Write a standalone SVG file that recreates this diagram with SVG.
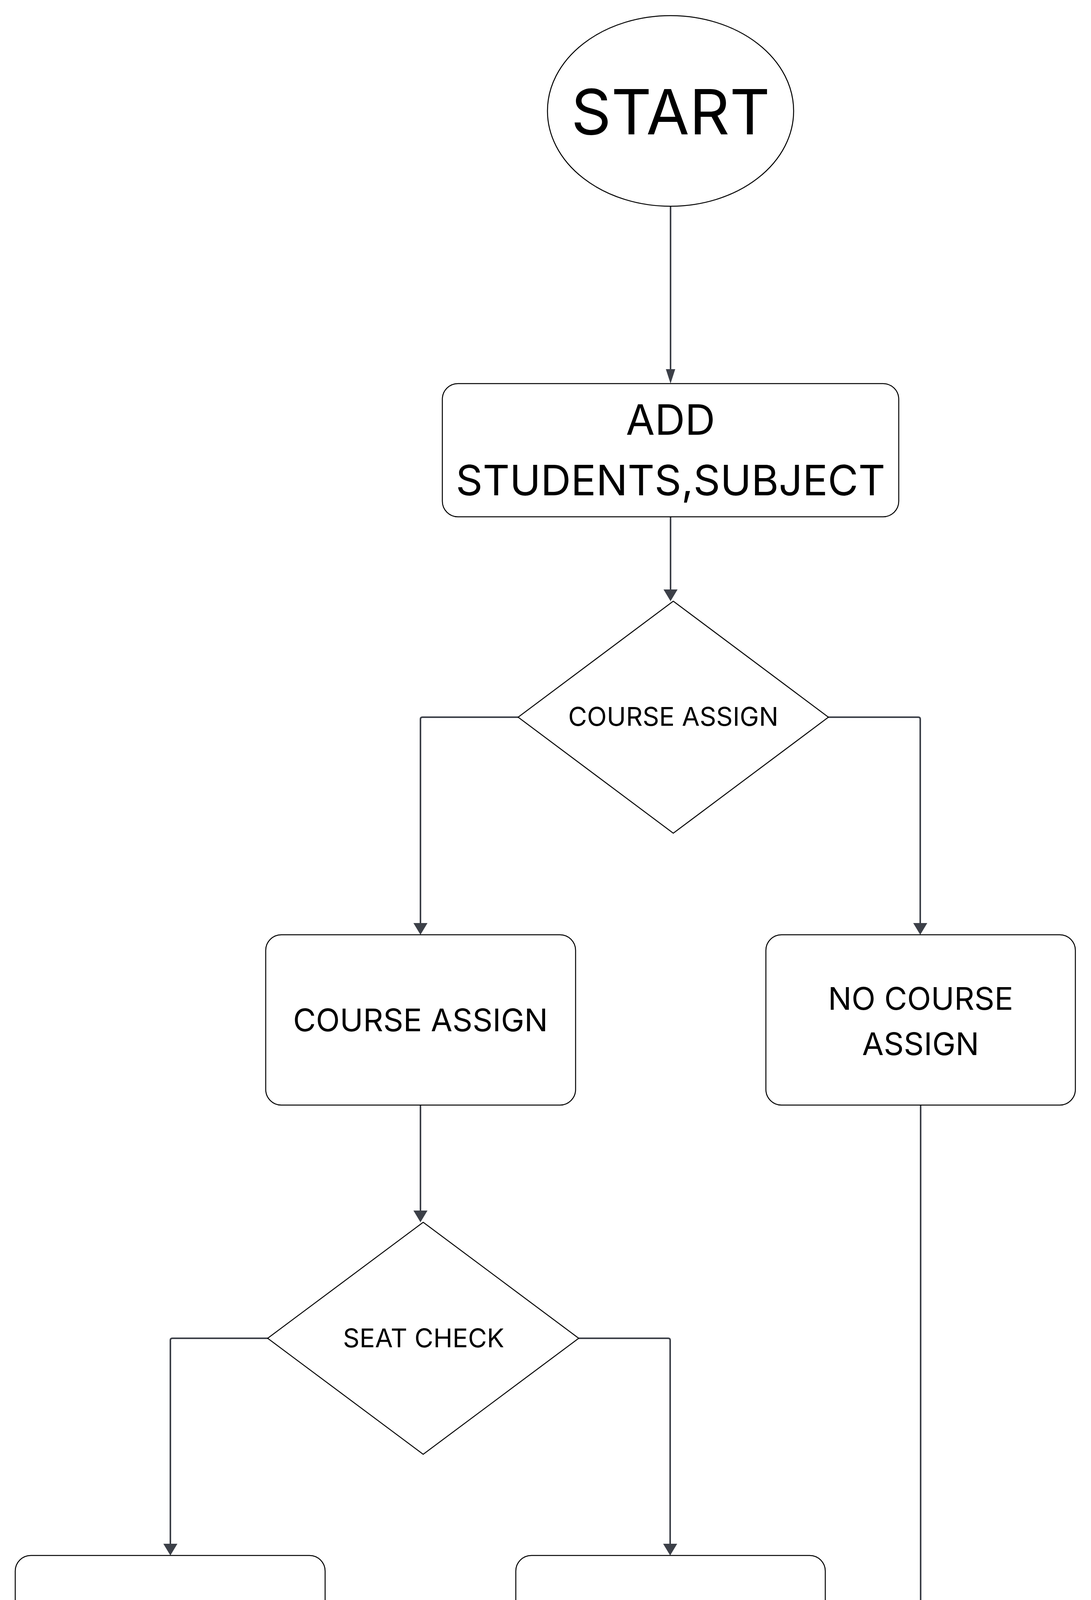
<svg xmlns="http://www.w3.org/2000/svg" width="2792" height="5718" viewBox="0 0 2792 5718">
<style>
.shape{fill:#ffffff;stroke:#000000;stroke-width:2.5;stroke-linejoin:round}
.lbl{font-family:Inter,"Liberation Sans",sans-serif;fill:#000000;text-anchor:middle}
.conn{fill:none;stroke:#3c4048;stroke-width:4}
</style>
<defs>
<marker id="arrA" markerUnits="userSpaceOnUse" markerWidth="37" markerHeight="24" refX="0" refY="12" orient="auto"><path d="M0,0 L37,12 L0,24 z" fill="#3c4048"/></marker>
<marker id="arrB" markerUnits="userSpaceOnUse" markerWidth="30" markerHeight="36" refX="0" refY="18" orient="auto"><path d="M0,0 L30,18 L0,36 z" fill="#3c4048"/></marker>
</defs>
<rect width="2792" height="5718" fill="#ffffff"/>
<g id="connectors">
<path class="conn" d="M1716,528 V945" marker-end="url(#arrA)"/>
<path class="conn" d="M1716,1323 V1509" marker-end="url(#arrB)"/>
<path class="conn" d="M1326,1836 H1081 Q1076,1836 1076,1841 V2363" marker-end="url(#arrB)"/>
<path class="conn" d="M2120,1836 H2350 Q2355,1836 2355,1841 V2363" marker-end="url(#arrB)"/>
<path class="conn" d="M1076,2829 V3099" marker-end="url(#arrB)"/>
<path class="conn" d="M685,3426 H441 Q436,3426 436,3431 V3952" marker-end="url(#arrB)"/>
<path class="conn" d="M1481,3426 H1710 Q1715,3426 1715,3431 V3952" marker-end="url(#arrB)"/>
<path class="conn" d="M436,4419 V5349 Q436,5354 441,5354 H1326" marker-end="url(#arrB)"/>
<path class="conn" d="M1716,4419 V4999" marker-end="url(#arrB)"/>
<path class="conn" d="M2356,2829 V5370 Q2356,5375 2351,5375 H2142" marker-end="url(#arrB)"/>
</g>
<g id="start">
<ellipse class="shape" cx="1716" cy="284" rx="315" ry="244"/>
<text class="lbl" x="1716" y="344" font-size="160">START</text>
</g>
<g id="add-students">
<rect class="shape" x="1132" y="982" width="1168" height="341" rx="40" ry="40"/>
<text class="lbl" x="1716" y="1113" font-size="107">ADD</text>
<text class="lbl" x="1716" y="1268" font-size="107">STUDENTS,SUBJECT</text>
</g>
<g id="decision-course">
<polygon class="shape" points="1723,1539 2120,1836 1723,2133 1326,1836"/>
<text class="lbl" x="1723" y="1858" font-size="66">COURSE ASSIGN</text>
</g>
<g id="course-assign">
<rect class="shape" x="680" y="2393" width="793" height="436" rx="40" ry="40"/>
<text class="lbl" x="1076" y="2640" font-size="80">COURSE ASSIGN</text>
</g>
<g id="no-course-assign">
<rect class="shape" x="1960" y="2393" width="792" height="436" rx="40" ry="40"/>
<text class="lbl" x="2356" y="2585" font-size="80">NO COURSE</text>
<text class="lbl" x="2356" y="2701" font-size="80">ASSIGN</text>
</g>
<g id="decision-seat">
<polygon class="shape" points="1083,3129 1481,3426 1083,3723 685,3426"/>
<text class="lbl" x="1084" y="3449" font-size="66">SEAT CHECK</text>
</g>
<g id="seat-assign">
<rect class="shape" x="39" y="3982" width="793" height="437" rx="40" ry="40"/>
<text class="lbl" x="436" y="4229" font-size="80">SEAT ASSIGN</text>
</g>
<g id="no-seat-assign">
<rect class="shape" x="1320" y="3982" width="792" height="437" rx="40" ry="40"/>
<text class="lbl" x="1716" y="4229" font-size="80">NO SEAT ASSIGN</text>
</g>
<g id="end">
<ellipse class="shape" cx="1734" cy="5354" rx="378" ry="324"/>
<text class="lbl" x="1735" y="5410" font-size="161">END</text>
</g>
</svg>
